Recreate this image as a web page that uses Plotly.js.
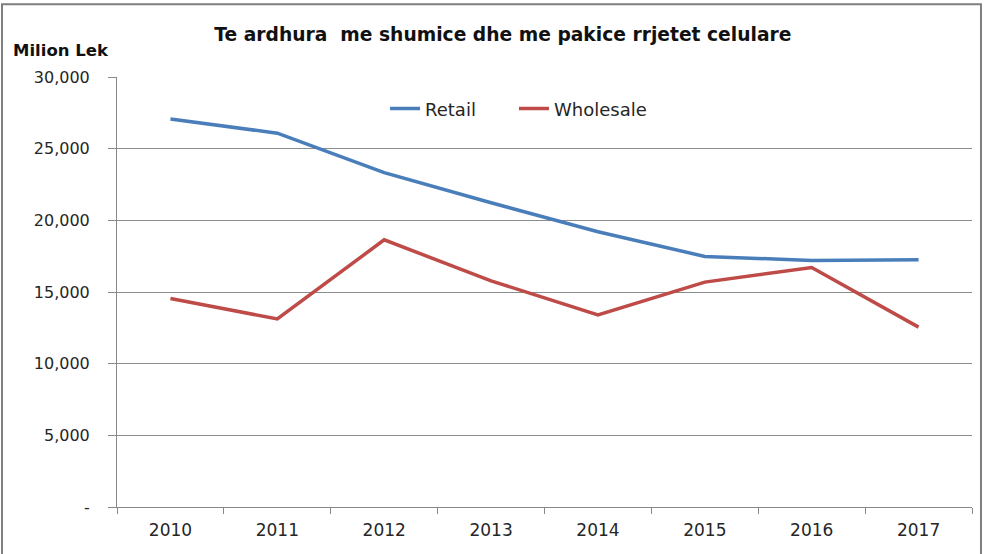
<!DOCTYPE html>
<html>
<head>
<meta charset="utf-8">
<script src="https://cdn.plot.ly/plotly-3.0.1.min.js"></script>
<style>html,body{margin:0;padding:0;background:#fff;}#chart{width:984px;height:554px;}</style>
</head>
<body>
<div id="chart"></div>
<script>
const years = ["2010","2011","2012","2013","2014","2015","2016","2017"];
const retail = [27070, 26080, 23330, 21230, 19200, 17480, 17200, 17250];
const wholesale = [14550, 13120, 18640, 15780, 13400, 15690, 16710, 12550];
const yTickVals = [0, 5000, 10000, 15000, 20000, 25000, 30000];
const yTickText = ["-", "5,000", "10,000", "15,000", "20,000", "25,000", "30,000"];

const traces = [
  {x: years, y: retail, type: "scatter", mode: "lines", name: "Retail",
   line: {color: "#4a7ebb", width: 3.5}, legend: "legend"},
  {x: years, y: wholesale, type: "scatter", mode: "lines", name: "Wholesale",
   line: {color: "#be4b48", width: 3.5}, legend: "legend2"}
];

const legendCommon = {orientation: "h", xanchor: "left", y: 0.926, yanchor: "middle",
  font: {size: 18, color: "#262626"}, bgcolor: "rgba(0,0,0,0)"};

const layout = {
  width: 984, height: 554,
  margin: {l: 117, r: 12, t: 77, b: 47},
  paper_bgcolor: "#ffffff", plot_bgcolor: "#ffffff",
  font: {family: "'DejaVu Sans', sans-serif", color: "#262626", size: 16},
  showlegend: true,
  title: {text: "<b>Te ardhura  me shumice dhe me pakice rrjetet celulare</b>",
    font: {size: 18.7, color: "#111"}, x: 0.511, xanchor: "center", y: 0.937, yanchor: "middle"},
  legend: Object.assign({}, legendCommon, {x: 0.3135}),
  legend2: Object.assign({}, legendCommon, {x: 0.4643}),
  xaxis: {type: "category", range: [-0.5, 7.5], tickson: "boundaries",
    ticks: "outside", ticklen: 6, tickcolor: "#888", showline: true, linecolor: "#888", linewidth: 1,
    showgrid: false, zeroline: false, tickfont: {size: 17, color: "#262626"}, ticklabelstandoff: 8, fixedrange: true},
  yaxis: {range: [0, 30000], tickvals: yTickVals, ticktext: yTickText,
    ticks: "outside", ticklen: 8, tickcolor: "#888", showline: true, linecolor: "#888", linewidth: 1,
    showgrid: true, gridcolor: "#8c8c8c", gridwidth: 1, zeroline: false,
    tickfont: {size: 16, color: "#262626"}, ticklabelstandoff: 15},
  annotations: [
    {text: "<b>Milion Lek</b>", xref: "paper", yref: "paper", x: -0.124, y: 1.0, xanchor: "left", yanchor: "middle",
     showarrow: false, font: {size: 16.5, color: "#111"}, yshift: 27}
  ],
  shapes: [
    {type: "rect", xref: "paper", yref: "paper", x0: -0.1345, x1: 1.0105, y0: -0.2, y1: 1.169,
     line: {color: "#7f7f7f", width: 2}, fillcolor: "rgba(0,0,0,0)", layer: "below"}
  ]
};

Plotly.newPlot("chart", traces, layout, {displayModeBar: false, staticPlot: true});
</script>
</body>
</html>
